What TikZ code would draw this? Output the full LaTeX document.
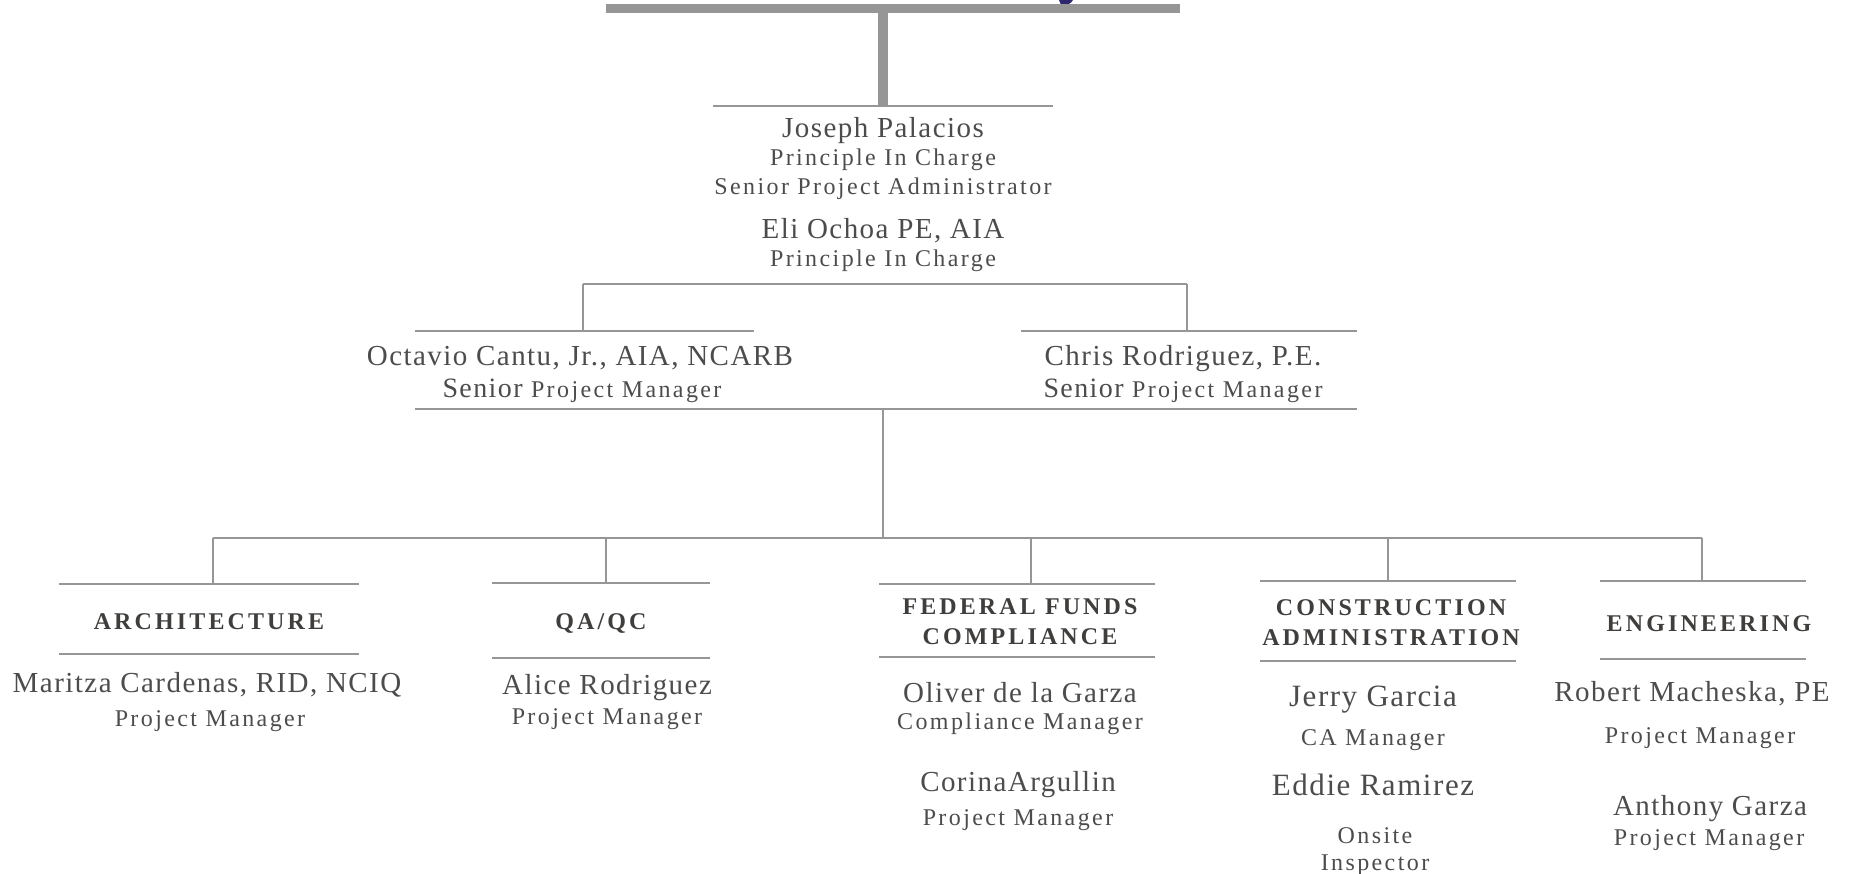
\documentclass[tikz,border=0pt]{standalone}
\usepackage{fontspec}
\setmainfont{Liberation Serif}
\newfontfamily\namefont[LetterSpace=5]{Liberation Serif}
\newfontfamily\rolefont[LetterSpace=10]{Liberation Serif}
\newfontfamily\deptfont[LetterSpace=13]{Liberation Serif}
\usetikzlibrary{positioning}

\definecolor{rulegray}{RGB}{150,150,150}
\definecolor{inkgray}{RGB}{76,76,76}
\definecolor{deptink}{RGB}{64,62,60}
\definecolor{titlenavy}{RGB}{45,40,110}

\tikzset{
  rule/.style={draw=rulegray, line width=2.6pt},
  heavyrule/.style={draw=rulegray, line width=9pt},
  person/.style={font=\namefont\fontsize{29}{31}\selectfont, text=inkgray,
    inner sep=0pt, anchor=base},
  role/.style={font=\rolefont\fontsize{24}{26}\selectfont, text=inkgray,
    inner sep=0pt, anchor=base},
  dept/.style={font=\deptfont\bfseries\fontsize{24}{30}\selectfont, text=deptink,
    align=center, inner sep=0pt, anchor=base},
}

\begin{document}
\begin{tikzpicture}[x=1pt,y=-1pt]
\useasboundingbox (0,0) rectangle (1851,874);

% title rule, cut off at the top
\fill[titlenavy] (1059,0) -- (1073,0) .. controls (1071,4) and (1066,6) .. (1061,5) .. controls (1060,3) .. (1059,0);
\coordinate (titleL) at (606,9);
\coordinate (titleR) at (1180,9);
\draw[heavyrule] (titleL) -- (titleR);

% principals
\coordinate (headL) at (713,106);
\coordinate (headR) at (1053,106);
\node[person] (palacios) at (883,138) {Joseph Palacios};
\node[role] (palacios1) at (883,166) {Principle In Charge};
\node[role] (palacios2) at (883,195) {Senior Project Administrator};
\node[person] (ochoa) at (883,239) {Eli Ochoa PE, AIA};
\node[role] (ochoa1) at (883,267) {Principle In Charge};
\draw[rule] (headL) -- (headR);
\draw[heavyrule, line width=10pt] (titleL -| palacios) -- (headL -| palacios);

% senior project managers
\coordinate (splitL) at (583,284);
\coordinate (splitR) at (1187,284);
\coordinate (spmL) at (415,331);
\coordinate (spmM) at (754,331);
\coordinate (spmN) at (1021,331);
\coordinate (spmR) at (1357,331);
\coordinate (baseL) at (415,409);
\coordinate (baseR) at (1357,409);
\node[person] (cantu) at (580,365) {Octavio Cantu, Jr., AIA, NCARB};
\node[role] (cantu1) at (582,397) {{\namefont\fontsize{28}{30}\selectfont Senior} Project Manager};
\node[person] (rodriguez) at (1183,365) {Chris Rodriguez, P.E.};
\node[role] (rodriguez1) at (1183,397) {{\namefont\fontsize{28}{30}\selectfont Senior} Project Manager};
\draw[rule] (splitL) -- (splitR);
\draw[rule] (splitL) -- (splitL |- spmL);
\draw[rule] (splitR) -- (splitR |- spmN);
\draw[rule] (spmL) -- (spmM);
\draw[rule] (spmN) -- (spmR);
\draw[rule] (baseL) -- (baseR);

% departments
\coordinate (deptL) at (213,538);
\coordinate (deptR) at (1702,538);
\draw[rule] (baseL -| palacios) -- (deptL -| palacios);
\draw[rule] (deptL) -- (deptR);
\foreach \d/\v/\l/\r/\t/\b in {arch/213/59/359/584/654, qa/606/492/710/583/658,
    fed/1031/879/1155/584/657, cons/1388/1260/1516/581/661, eng/1702/1600/1806/581/659}{
  \coordinate (\d-up) at (\v,538);
  \coordinate (\d-tl) at (\l,\t);
  \coordinate (\d-tr) at (\r,\t);
  \coordinate (\d-bl) at (\l,\b);
  \coordinate (\d-br) at (\r,\b);
  \draw[rule] (\d-up) -- (\d-up |- \d-tl);
  \draw[rule] (\d-tl) -- (\d-tr);
  \draw[rule] (\d-bl) -- (\d-br);
}

\node[dept] (architecture) at (209,629) {ARCHITECTURE};
\node[person] (cardenas) at (207,692) {Maritza Cardenas, RID, NCIQ};
\node[role] (cardenas1) at (210,726) {Project Manager};

\node[dept] (qaqc) at (601,629) {QA/QC};
\node[person] (arodriguez) at (607,694) {Alice Rodriguez};
\node[role] (arodriguez1) at (607,724) {Project Manager};

% two-line headings sit on their last line
\node[dept] (federal) at (1020,644) {FEDERAL FUNDS\\COMPLIANCE};
\node[person] (ogarza) at (1020,702) {Oliver de la Garza};
\node[role] (ogarza1) at (1020,729) {Compliance Manager};
\node[person] (argullin) at (1018,791) {CorinaArgullin};
\node[role] (argullin1) at (1018,825) {Project Manager};

\node[dept] (construction) at (1391,645) {CONSTRUCTION\\ADMINISTRATION};
\node[person, font=\namefont\fontsize{31}{33}\selectfont] (garcia) at (1373,706) {Jerry Garcia};
\node[role] (garcia1) at (1373,745) {CA Manager};
\node[person, font=\namefont\fontsize{31}{33}\selectfont] (ramirez) at (1373,795) {Eddie Ramirez};
\node[role] (ramirez1) at (1375,843) {Onsite};
\node[role] (ramirez2) at (1375,870) {Inspector};

\node[dept] (engineering) at (1709,631) {ENGINEERING};
\node[person] (macheska) at (1692,701) {Robert Macheska, PE};
\node[role] (macheska1) at (1700,743) {Project Manager};
\node[person] (agarza) at (1710,815) {Anthony Garza};
\node[role] (agarza1) at (1709,845) {Project Manager};
\end{tikzpicture}
\end{document}
